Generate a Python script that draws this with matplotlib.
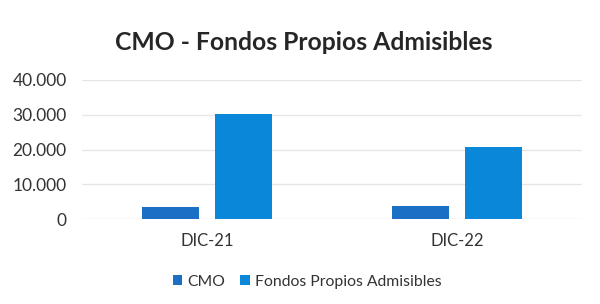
import matplotlib.pyplot as plt
import numpy as np
from matplotlib.ticker import FuncFormatter

categories = ["DIC-21", "DIC-22"]
cmo = [3450, 3700]
fondos = [30300, 20700]
series_names = ["CMO", "Fondos Propios Admisibles"]
yticks = [0, 10000, 20000, 30000, 40000]

plt.rcParams["font.family"] = ["Lato", "DejaVu Sans"]

fig = plt.figure(figsize=(6, 3.04), dpi=100)
ax = fig.add_axes([82 / 600, 1 - 219 / 304, 500 / 600, 139 / 304])

x = np.arange(len(categories))
width = 0.228
gap = 0.064
ax.bar(x - (width + gap) / 2, cmo, width, color="#1b6fc4", label=series_names[0], zorder=3)
ax.bar(x + (width + gap) / 2, fondos, width, color="#0b87d9", label=series_names[1], zorder=3)

ax.set_xlim(-0.5, 1.5)
ax.set_ylim(0, 40000)
ax.set_yticks(yticks)
ax.yaxis.set_major_formatter(FuncFormatter(lambda v, p: f"{int(v):,}".replace(",", ".")))
ax.set_xticks(x)
ax.set_xticklabels(categories)
ax.tick_params(axis="both", length=0, labelsize=12, colors="#333333")
ax.tick_params(axis="x", pad=10)
ax.tick_params(axis="y", labelsize=12.5, pad=11)
ax.grid(axis="y", color="#e6e6e6", linewidth=1, zorder=0)
for s in ax.spines.values():
    s.set_visible(False)

fig.text(304 / 600, 1 - 42 / 304, "CMO - Fondos Propios Admisibles", ha="center", va="center",
         fontsize=17.8, fontweight="bold", color="#262626")

fig.legend(loc="center", bbox_to_anchor=(307 / 600, 1 - 282 / 304), ncol=2, frameon=False,
           fontsize=11.3, handlelength=0.6, handleheight=0.6, handletextpad=0.3,
           columnspacing=1.0, labelcolor="#333333")

fig.savefig("out.png", dpi=100)
